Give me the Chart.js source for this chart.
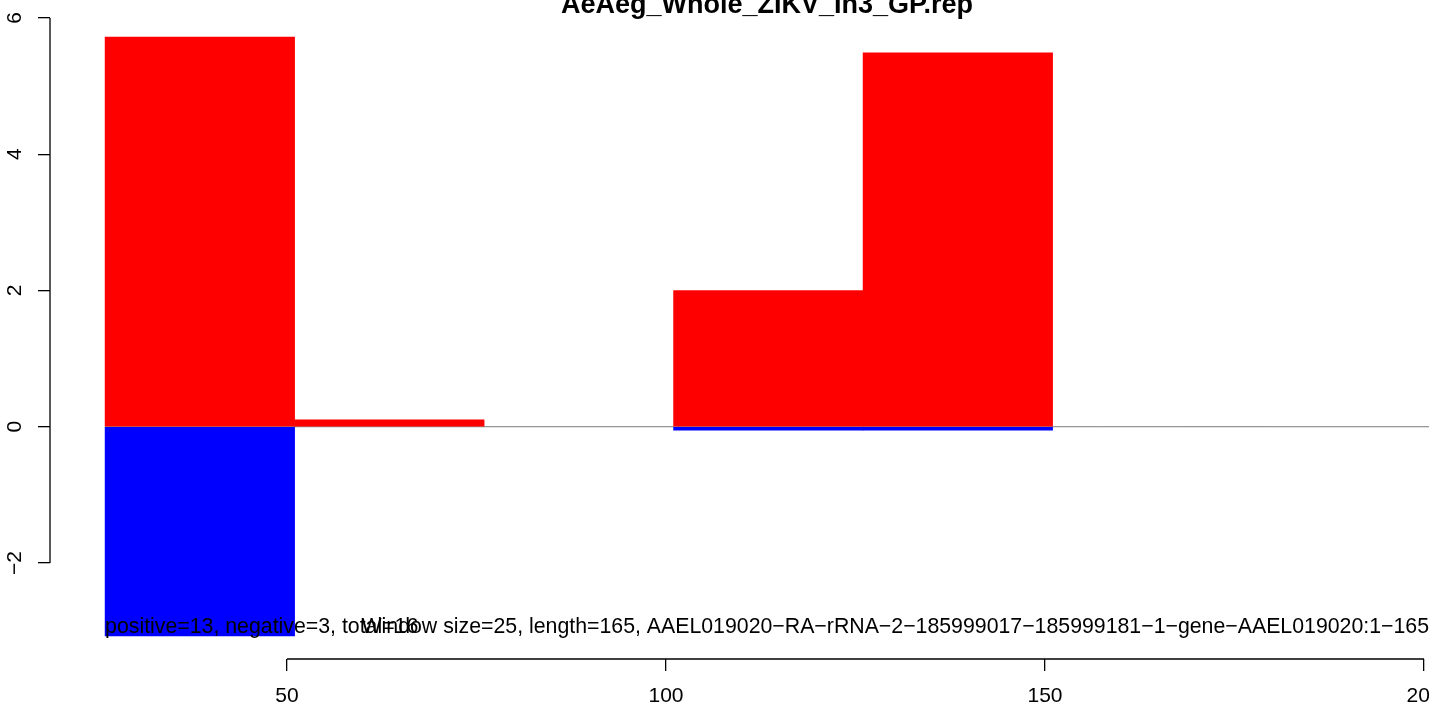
<!DOCTYPE html>
<html>
<head>
<meta charset="utf-8">
<script src="https://cdn.jsdelivr.net/npm/chart.js@4.4.0/dist/chart.umd.min.js"></script>
<style>
html,body{margin:0;padding:0;background:#fff;overflow:hidden}
#wrap{position:relative;width:1429px;height:706px;background:#fff}
</style>
</head>
<body>
<div id="wrap"><canvas id="c"></canvas></div>
<script>
// ---- data ----
const chartTitle = "AeAeg_Whole_ZIKV_In3_GP.rep";
const windowSize = 25;
const windowStarts = [26, 51, 76, 101, 126, 151];
const positiveValues = [5.72, 0.10, 0, 2.00, 5.49, 0];
const negativeValues = [-3.07, 0, 0, -0.05, -0.05, 0];
const xTicks = [50, 100, 150, 200];
const yTicks = [-2, 0, 2, 4, 6];
const countsLabel = "positive=13, negative=3, total=16";
const infoLabel = "Window size=25, length=165, AAEL019020\u2212RA\u2212rRNA\u22122\u2212185999017\u2212185999181\u22121\u2212gene\u2212AAEL019020:1\u2212165";

// ---- scale limits ----
const xMin = 18.73, xMax = 200.66;
const yMin = -3.409, yMax = 6.073;

const FONT = '"Liberation Sans", Arial, Helvetica, sans-serif';

const centers = windowStarts.map(s => s + windowSize / 2);
const toPoints = vals => centers.map((c, i) => ({x: c, y: vals[i] === 0 ? null : vals[i]}));

const rDecor = {
  id: 'rDecor',
  afterDraw(chart) {
    const {ctx, scales: {x, y}, chartArea} = chart;
    ctx.save();
    ctx.strokeStyle = '#000';
    ctx.lineWidth = 1.3;
    const xa = x.top;
    ctx.beginPath();
    ctx.moveTo(x.getPixelForValue(xTicks[0]), xa);
    ctx.lineTo(x.getPixelForValue(xTicks[xTicks.length - 1]), xa);
    ctx.stroke();
    const ya = y.right;
    ctx.beginPath();
    ctx.moveTo(ya, y.getPixelForValue(yTicks[0]));
    ctx.lineTo(ya, y.getPixelForValue(yTicks[yTicks.length - 1]));
    ctx.stroke();

    ctx.fillStyle = '#000';
    ctx.textBaseline = 'alphabetic';
    ctx.font = 'bold 27px ' + FONT;
    ctx.textAlign = 'center';
    ctx.fillText(chartTitle, 767, 12.5);

    ctx.font = '21.3px ' + FONT;
    ctx.textAlign = 'left';
    ctx.fillText(countsLabel, x.getPixelForValue(windowStarts[0]), 633);
    ctx.textAlign = 'right';
    ctx.fillText(infoLabel, chartArea.right, 633);
    ctx.restore();
  }
};

new Chart(document.getElementById('c'), {
  type: 'bar',
  data: {
    datasets: [
      {
        label: 'positive',
        data: toPoints(positiveValues),
        backgroundColor: '#ff0000',
        borderWidth: 0,
        barPercentage: 1,
        categoryPercentage: 1,
        grouped: false,
        order: 1
      },
      {
        label: 'negative',
        data: toPoints(negativeValues),
        backgroundColor: '#0000ff',
        borderWidth: 0,
        barPercentage: 1,
        categoryPercentage: 1,
        grouped: false,
        order: 1
      },
      {
        type: 'line',
        label: 'zero',
        data: [{x: windowStarts[0], y: 0}, {x: xMax + 5, y: 0}],
        borderColor: '#7a7a7a',
        borderWidth: 1,
        pointRadius: 0,
        fill: false,
        order: 2
      }
    ]
  },
  options: {
    responsive: true,
    maintainAspectRatio: false,
    animation: false,
    events: [],
    layout: {padding: {top: 13, left: 0, right: 0, bottom: 0}},
    plugins: {legend: {display: false}, tooltip: {enabled: false}, title: {display: false}},
    scales: {
      x: {
        type: 'linear',
        position: 'bottom',
        min: xMin,
        max: xMax,
        offset: false,
        afterBuildTicks: s => { s.ticks = xTicks.map(v => ({value: v})); },
        afterFit: s => { s.height = 47; s.paddingLeft = 0; s.paddingRight = 0; },
        grid: {offset: false, drawOnChartArea: false, drawTicks: true, tickLength: 12, color: '#000', lineWidth: 1.3},
        border: {display: false},
        ticks: {
          autoSkip: false, maxRotation: 0, minRotation: 0, padding: 13,
          color: '#000', font: {family: FONT, size: 21},
          callback: v => String(v)
        }
      },
      y: {
        type: 'linear',
        position: 'left',
        min: yMin,
        max: yMax,
        afterBuildTicks: s => { s.ticks = yTicks.map(v => ({value: v})); },
        afterFit: s => { s.width = 50; s.paddingTop = 0; s.paddingBottom = 0; },
        grid: {offset: false, drawOnChartArea: false, drawTicks: true, tickLength: 12, color: '#000', lineWidth: 1.3},
        border: {display: false},
        ticks: {
          autoSkip: false, minRotation: 90, maxRotation: 90, crossAlign: 'center', padding: 11,
          color: '#000', font: {family: FONT, size: 21},
          callback: v => (v < 0 ? '\u2212' + Math.abs(v) : String(v))
        }
      }
    }
  },
  plugins: [rDecor]
});
</script>
</body>
</html>
